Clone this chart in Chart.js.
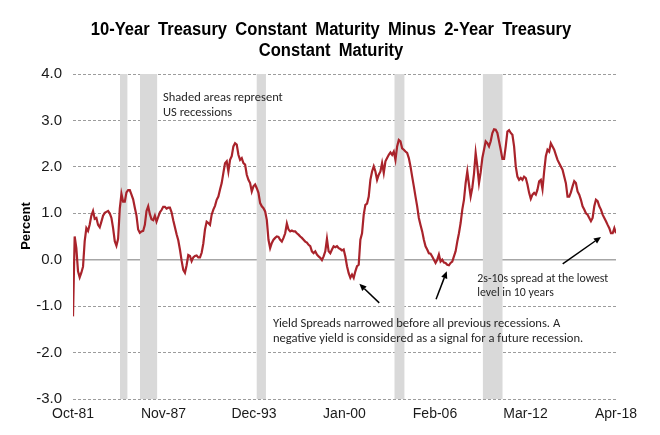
<!DOCTYPE html>
<html>
<head>
<meta charset="utf-8">
<script src="https://cdn.jsdelivr.net/npm/chart.js@4.4.1/dist/chart.umd.min.js"></script>
<style>
html, body { margin: 0; padding: 0; background: #ffffff; }
#wrap { width: 660px; height: 435px; }
</style>
</head>
<body>
<div id="wrap"><canvas id="c" width="660" height="435"></canvas></div>
<script>
// ---------------- data ----------------
const titleLines = ['10-Year Treasury Constant Maturity Minus 2-Year Treasury', 'Constant Maturity'];
const yAxisTitle = 'Percent';
const tickLabels = ['Oct-81', 'Nov-87', 'Dec-93', 'Jan-00', 'Feb-06', 'Mar-12', 'Apr-18'];
const yMin = -3;
const yMax = 4;

// 10y minus 2y spread (percent), evenly spaced observations
const spread = [
  -1.22, 0.50, 0.25, -0.25, -0.38, -0.28, -0.15, 0.40, 0.68, 0.62,
  0.76, 0.95, 1.05, 0.88, 0.90, 0.75, 0.70, 0.82, 0.95, 1.01,
  1.03, 1.05, 1.00, 0.90, 0.68, 0.40, 0.30, 0.45, 1.10, 1.42,
  1.25, 1.25, 1.45, 1.50, 1.50, 1.40, 1.30, 1.12, 0.95, 0.65,
  0.58, 0.61, 0.62, 0.75, 1.05, 1.15, 0.98, 0.87, 0.85, 0.95,
  0.82, 0.92, 1.02, 1.07, 1.14, 1.14, 1.10, 1.12, 1.12, 1.02,
  0.85, 0.70, 0.55, 0.42, 0.22, -0.02, -0.22, -0.28, -0.12, 0.10,
  0.08, -0.03, 0.05, 0.08, 0.09, 0.05, 0.05, 0.15, 0.35, 0.65,
  0.82, 0.79, 0.75, 0.97, 1.08, 1.16, 1.29, 1.36, 1.51, 1.65,
  1.87, 2.08, 2.12, 1.90, 2.15, 2.23, 2.44, 2.51, 2.48, 2.26,
  2.15, 2.19, 2.08, 2.05, 1.83, 1.72, 1.65, 1.47, 1.58, 1.62,
  1.54, 1.44, 1.22, 1.15, 1.11, 1.04, 0.86, 0.43, 0.25, 0.36,
  0.43, 0.47, 0.50, 0.49, 0.43, 0.39, 0.47, 0.57, 0.78, 0.65,
  0.61, 0.63, 0.61, 0.61, 0.57, 0.54, 0.50, 0.47, 0.43, 0.39,
  0.37, 0.32, 0.29, 0.18, 0.14, 0.18, 0.11, 0.07, 0.04, -0.01,
  0.07, 0.18, 0.45, 0.18, 0.14, 0.22, 0.29, 0.27, 0.29, 0.25,
  0.23, 0.20, 0.22, 0.07, -0.14, -0.29, -0.39, -0.32, -0.39, -0.25,
  -0.14, -0.11, 0.43, 0.57, 0.97, 1.18, 1.21, 1.36, 1.72, 1.90,
  2.01, 1.90, 1.72, 1.83, 1.90, 2.08, 1.87, 2.12, 2.19, 2.26,
  2.31, 2.26, 2.33, 2.15, 2.44, 2.58, 2.55, 2.40, 2.37, 2.33,
  2.30, 2.19, 2.01, 1.79, 1.58, 1.36, 1.15, 0.90, 0.75, 0.61,
  0.43, 0.29, 0.22, 0.14, 0.13, 0.07, 0.00, -0.07, 0.00, 0.11,
  -0.04, 0.00, -0.06, -0.07, -0.11, -0.12, -0.07, -0.04, 0.07, 0.18,
  0.39, 0.57, 0.79, 1.08, 1.29, 1.65, 1.90, 1.62, 1.36, 1.55,
  1.85, 2.30, 2.01, 1.65, 1.88, 2.19, 2.37, 2.55, 2.51, 2.44,
  2.55, 2.73, 2.81, 2.80, 2.73, 2.55, 2.37, 2.17, 2.17, 2.44,
  2.76, 2.79, 2.73, 2.69, 2.44, 2.01, 1.79, 1.72, 1.76, 1.72,
  1.79, 1.76, 1.62, 1.44, 1.31, 1.40, 1.44, 1.40, 1.51, 1.69,
  1.72, 1.52, 1.90, 2.23, 2.37, 2.33, 2.51, 2.44, 2.37, 2.26,
  2.15, 2.08, 2.01, 1.94, 1.79, 1.65, 1.36, 1.36, 1.45, 1.58,
  1.69, 1.65, 1.47, 1.40, 1.29, 1.15, 1.08, 1.00, 0.97, 0.90,
  0.83, 0.90, 1.15, 1.29, 1.26, 1.15, 1.08, 0.97, 0.90, 0.83,
  0.75, 0.68, 0.57, 0.57, 0.68, 0.57
];

// recession periods, in observation-index units
const recessionStart = [28.1, 40.1, 109.8, 192.3, 245.2];
const recessionEnd   = [32.7, 50.5, 115.5, 198.5, 257.2];

// annotation texts (anchored in data units: observation index, percent)
const noteTexts = [
  { lines: ['Shaded areas represent', 'US recessions'], x: 53.9, y: [3.49, 3.155], size: 12.5 },
  { lines: ['Yield Spreads narrowed before all previous recessions. A',
            'negative yield is considered as a signal for a future recession.'], x: 119.7, y: [-1.38, -1.71], size: 12.6 },
  { lines: ['2s-10s spread at the lowest', 'level in 10 years'], x: 242.0, y: [-0.41, -0.72], size: 11.8 }
];
const noteArrows = [
  { from: [183.3, -0.93], to: [171.4, -0.52] },
  { from: [217.3, -0.85], to: [223.7, -0.25] },
  { from: [293.1, -0.09], to: [316.0, 0.49] }
];

// ---------------- chart ----------------
const lastIndex = spread.length - 1;
const lineColor = '#a9232b';
const recessionColor = '#d9d9d9';

const datasets = [{
  label: 'Spread',
  data: spread.map((v, i) => ({ x: i, y: v })),
  borderColor: lineColor,
  borderWidth: 2.2,
  pointRadius: 0,
  tension: 0,
  fill: false,
  order: 0
}];
recessionStart.forEach((s, k) => {
  datasets.push({
    label: 'Recession ' + (k + 1),
    data: [{ x: s, y: yMax }, { x: recessionEnd[k], y: yMax }],
    borderWidth: 0,
    borderColor: 'rgba(0,0,0,0)',
    backgroundColor: recessionColor,
    pointRadius: 0,
    fill: { value: yMin },
    order: 1
  });
});

const annotPlugin = {
  id: 'annot',
  afterDraw(chart) {
    const ctx = chart.ctx;
    const xs = chart.scales.x, ys = chart.scales.y;

    // title (Arial-Narrow-like: bold sans compressed horizontally)
    ctx.save();
    ctx.fillStyle = '#000000';
    ctx.font = "bold 18px 'Liberation Sans', Arial, sans-serif";
    ctx.textAlign = 'center';
    ctx.textBaseline = 'middle';
    if ('wordSpacing' in ctx) ctx.wordSpacing = '4px';
    const titleY = [30, 51];
    titleLines.forEach((t, j) => {
      ctx.save();
      ctx.translate(331, titleY[j]);
      ctx.scale(0.92, 1);
      ctx.fillText(t, 0, 0);
      ctx.restore();
    });
    ctx.restore();

    // axis title
    ctx.save();
    ctx.fillStyle = '#000000';
    ctx.font = "bold 13px 'Liberation Sans', Arial, sans-serif";
    ctx.textAlign = 'center';
    ctx.textBaseline = 'middle';
    ctx.translate(26, 226);
    ctx.rotate(-Math.PI / 2);
    ctx.fillText(yAxisTitle, 0, 0);
    ctx.restore();

    ctx.save();
    ctx.fillStyle = '#262626';
    ctx.textAlign = 'left';
    ctx.textBaseline = 'middle';
    noteTexts.forEach(n => {
      ctx.font = n.size + "px Carlito, Lato, 'Open Sans', sans-serif";
      n.lines.forEach((t, j) => {
        ctx.fillText(t, xs.getPixelForValue(n.x), ys.getPixelForValue(n.y[j]));
      });
    });
    ctx.strokeStyle = '#000000';
    ctx.fillStyle = '#000000';
    ctx.lineWidth = 1.5;
    noteArrows.forEach(a => {
      const x1 = xs.getPixelForValue(a.from[0]), y1 = ys.getPixelForValue(a.from[1]);
      const x2 = xs.getPixelForValue(a.to[0]), y2 = ys.getPixelForValue(a.to[1]);
      const ang = Math.atan2(y2 - y1, x2 - x1);
      const hl = 7, hw = 3.2;
      const bx = x2 - hl * Math.cos(ang), by = y2 - hl * Math.sin(ang);
      ctx.beginPath();
      ctx.moveTo(x1, y1);
      ctx.lineTo(bx, by);
      ctx.stroke();
      ctx.beginPath();
      ctx.moveTo(x2, y2);
      ctx.lineTo(bx + hw * Math.sin(ang), by - hw * Math.cos(ang));
      ctx.lineTo(bx - hw * Math.sin(ang), by + hw * Math.cos(ang));
      ctx.closePath();
      ctx.fill();
    });
    ctx.restore();
  }
};

new Chart(document.getElementById('c'), {
  type: 'line',
  data: { datasets },
  options: {
    responsive: false,
    animation: false,
    devicePixelRatio: 1,
    layout: { padding: { left: 0, right: 44, top: 74, bottom: 0 } },
    plugins: {
      legend: { display: false },
      tooltip: { enabled: false },
      title: { display: false }
    },
    scales: {
      x: {
        type: 'linear',
        min: 0,
        max: lastIndex,
        grid: { display: false, drawTicks: false },
        border: { display: false },
        afterBuildTicks(scale) {
          scale.ticks = tickLabels.map((_, j) => ({ value: j * lastIndex / (tickLabels.length - 1) }));
        },
        afterFit(scale) { scale.height = 36; },
        ticks: {
          autoSkip: false,
          maxRotation: 0,
          padding: 7,
          color: '#1a1a1a',
          font: { family: "'Liberation Sans', Arial, sans-serif", size: 14 },
          callback: (v, idx) => tickLabels[idx]
        }
      },
      y: {
        min: yMin,
        max: yMax,
        afterFit(scale) { scale.width = 73; },
        grid: {
          drawTicks: false,
          color: c => (c.tick && c.tick.value === 0) ? '#a6a6a6' : '#9c9c9c',
          lineWidth: c => (c.tick && c.tick.value === 0) ? 1.5 : 1
        },
        border: {
          display: false,
          dash: c => (c.tick && c.tick.value === 0) ? [] : [3, 2]
        },
        ticks: {
          stepSize: 1,
          padding: 11,
          color: '#1a1a1a',
          font: { family: "'Liberation Sans', Arial, sans-serif", size: 15 },
          callback: v => Number(v).toFixed(1)
        }
      }
    }
  },
  plugins: [annotPlugin]
});
</script>
</body>
</html>
